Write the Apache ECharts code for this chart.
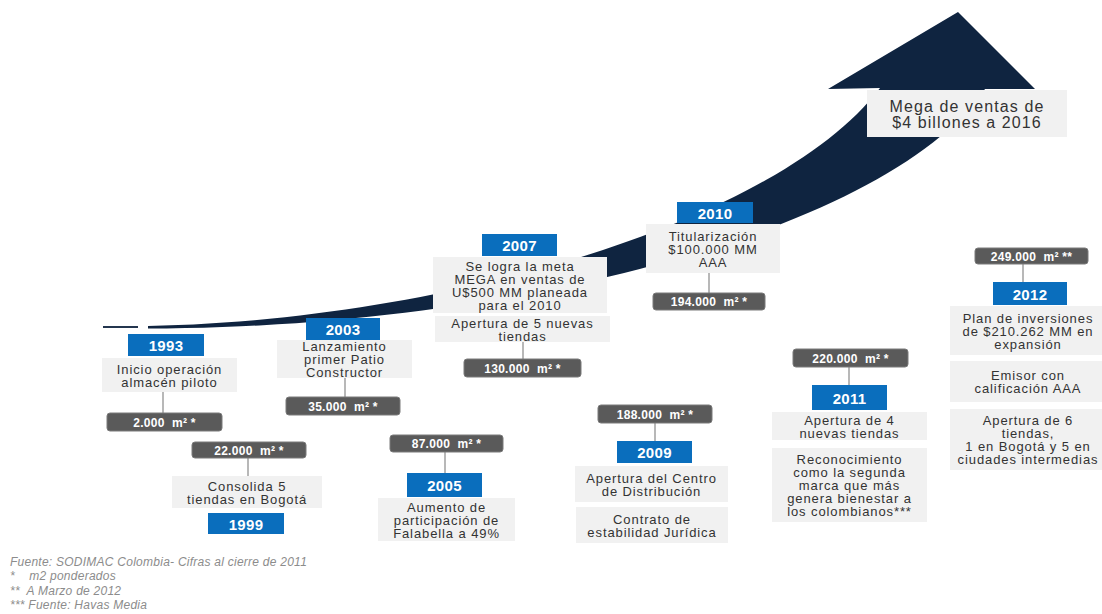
<!DOCTYPE html>
<html>
<head>
<meta charset="utf-8">
<script src="https://cdn.jsdelivr.net/npm/echarts@6/dist/echarts.min.js"></script>
<style>
html,body{margin:0;padding:0;background:#fff;}
#main{width:1102px;height:614px;}
#main svg text{letter-spacing:0.9px;}
#main svg text[style*="bold"]{letter-spacing:0.3px;}
#main svg text[style*="italic"]{letter-spacing:0.25px;}
#main svg text[style*="16px"]{letter-spacing:1.1px;}
</style>
</head>
<body>
<div id="main"></div>
<script>
// ---------- DATA ----------
const years = ['1993', '1999', '2003', '2005', '2007', '2009', '2010', '2011', '2012'];
const areas = ['2.000', '22.000', '35.000', '87.000', '130.000', '188.000', '194.000', '220.000', '249.000'];
const areaMarks = ['*', '*', '*', '*', '*', '*', '*', '*', '**'];
const milestones = [
  ['Inicio operación\nalmacén piloto'],
  ['Consolida 5\ntiendas en Bogotá'],
  ['Lanzamiento\nprimer Patio\nConstructor'],
  ['Aumento de\nparticipación de\nFalabella a 49%'],
  ['Se logra la meta\nMEGA en ventas de\nU$500 MM planeada\npara el 2010', 'Apertura de 5 nuevas\ntiendas'],
  ['Apertura del Centro\nde Distribución', 'Contrato de\nestabilidad Jurídica'],
  ['Titularización\n$100.000 MM\nAAA'],
  ['Apertura de 4\nnuevas tiendas', 'Reconocimiento\ncomo la segunda\nmarca que más\ngenera bienestar a\nlos colombianos***'],
  ['Plan de inversiones\nde $210.262 MM en\nexpansión', 'Emisor con\ncalificación AAA', 'Apertura de 6\ntiendas,\n1 en Bogotá y 5 en\nciudades intermedias']
];
const goalText = 'Mega de ventas de\n$4 billones a 2016';
const footnotes = [
  'Fuente: SODIMAC Colombia- Cifras al cierre de 2011',
  '*    m2 ponderados',
  '**  A Marzo de 2012',
  '*** Fuente: Havas Media'
];

// ---------- LAYOUT (positions/sizes, separate from data) ----------
const layout = [
  {year:[128,334,76,22], area:[107,413,115,18], line:[163,392,413], desc:[[102,358,135,34]]},
  {year:[208,513,76,21], area:[192,442,114,16], line:[248,458,476], desc:[[172,476,150,32]]},
  {year:[306,318,74,22], area:[286,397,114,18], line:[345,378,397], desc:[[277,340,135,38]]},
  {year:[407,473,75,24], area:[390,435,113,17], line:[445,452,473], desc:[[378,498,137,43]]},
  {year:[482,234,75,22], area:[464,359,117,18], line:[523,342,359], desc:[[433,257,174,56],[435,316,175,26]]},
  {year:[617,441,75,22], area:[598,405,114,18], line:[655,423,441], desc:[[575,466,153,36],[576,507,152,36]]},
  {year:[677,202,76,21], area:[653,293,112,17], line:[709,273,293], desc:[[646,224,134,49]]},
  {year:[812,385,75,25], area:[793,349,115,18], line:[849,367,385], desc:[[772,412,155,28],[772,448,155,74]]},
  {year:[993,282,74,23], area:[975,248,113,16], line:[1023,264,282], desc:[[950,306,156,49],[950,361,156,41],[950,409,156,61]]}
];

const FONT = 'Liberation Sans, Arial, sans-serif';
const BLUE = '#0A6EBD', GRAY = '#5A5A5A', PANEL = '#F1F1F1', NAVY = '#0F2440';

// arrow geometry
function bez(p0, p1, p2, p3, n) {
  const pts = [];
  for (let i = 0; i <= n; i++) {
    const t = i / n, u = 1 - t;
    pts.push([
      u*u*u*p0[0] + 3*u*u*t*p1[0] + 3*u*t*t*p2[0] + t*t*t*p3[0],
      u*u*u*p0[1] + 3*u*u*t*p1[1] + 3*u*t*t*p2[1] + t*t*t*p3[1]
    ]);
  }
  return pts;
}
const upper = bez([148,326],[450,320],[780,220],[880,88], 60);
const lower = bez([148,328.5],[520,328],[890,228],[985,89], 60).reverse();
const arrowPts = upper.concat([[828,89],[958,12],[1035,89]]).concat(lower);

const elements = [];
elements.push({type:'polygon', z:1, shape:{points: arrowPts}, style:{fill: NAVY}});
elements.push({type:'line', z:1, shape:{x1:103,y1:327,x2:138,y2:327}, style:{stroke:'#24364f', lineWidth:2}});

function textEl(txt, cx, cy, opts) {
  return {type:'text', z: 5, x: cx, y: cy, style: Object.assign({
    text: txt, align:'center', verticalAlign:'middle', fontFamily: FONT
  }, opts)};
}

years.forEach((yr, i) => {
  const L = layout[i];
  // connector
  elements.push({type:'line', z:2, shape:{x1:L.line[0], y1:L.line[1], x2:L.line[0], y2:L.line[2]}, style:{stroke:'#B8B8B8', lineWidth:2}});
  // description panels
  milestones[i].forEach((txt, k) => {
    const d = L.desc[k];
    elements.push({type:'rect', z:3, shape:{x:d[0], y:d[1], width:d[2], height:d[3]}, style:{fill: PANEL}});
    elements.push(textEl(txt, d[0] + d[2]/2, d[1] + d[3]/2 + 0.5, {fontSize:13, lineHeight:13, fill:'#333333'}));
  });
  // year box
  const y = L.year;
  elements.push({type:'rect', z:3, shape:{x:y[0], y:y[1], width:y[2], height:y[3]}, style:{fill: BLUE}});
  elements.push(textEl(yr, y[0] + y[2]/2, y[1] + y[3]/2 + 0.5, {fontSize:15, fontWeight:'bold', fill:'#ffffff'}));
  // area box
  const a = L.area;
  elements.push({type:'rect', z:3, shape:{x:a[0], y:a[1], width:a[2], height:a[3], r:3}, style:{fill: GRAY, stroke:'#7a7a7a', lineWidth:1}});
  elements.push(textEl(areas[i] + '  m² ' + areaMarks[i], a[0] + a[2]/2, a[1] + a[3]/2 + 0.5, {fontSize:12, fontWeight:'bold', fill:'#ffffff'}));
});

// goal box
elements.push({type:'rect', z:4, shape:{x:867, y:90, width:200, height:47}, style:{fill: PANEL}});
elements.push(textEl(goalText, 967, 114.5, {fontSize:16, lineHeight:16, fill:'#333333'}));

// footnotes
footnotes.forEach((t, i) => {
  elements.push({type:'text', z:5, x:10, y:562 + i*14.3, style:{text:t, align:'left', verticalAlign:'middle',
    fontFamily: FONT, fontSize:12, fontStyle:'italic', fill:'#8C8C8C'}});
});

const chart = echarts.init(document.getElementById('main'), null, {renderer:'svg'});
chart.setOption({
  backgroundColor:'#ffffff',
  animation:false,
  graphic:{elements: elements}
});
</script>
</body>
</html>
